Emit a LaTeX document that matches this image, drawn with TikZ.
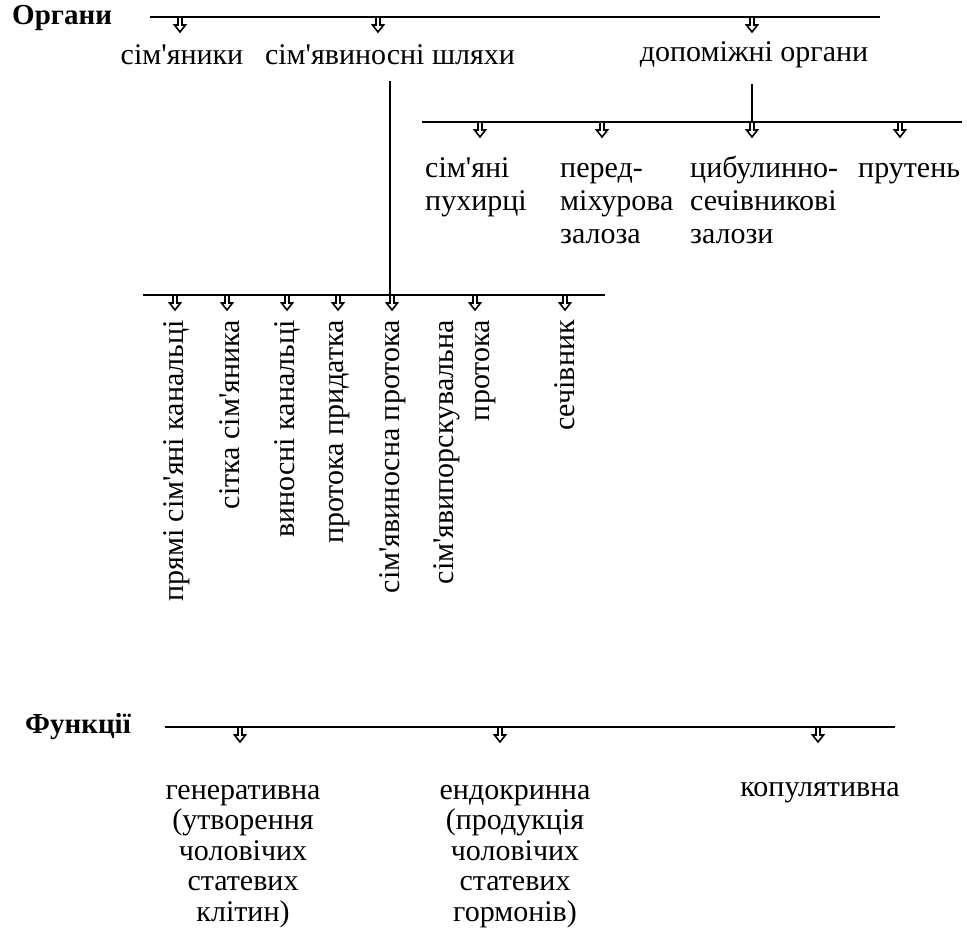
\documentclass[tikz,border=0pt]{standalone}
\usepackage{fontspec}
\setmainfont{Liberation Serif}[Ligatures=TeXOff]
\usetikzlibrary{positioning}

\tikzset{
  bus/.style={line width=2.8pt},
  stem/.style={line width=2pt},
  lbl/.style={inner sep=0pt, font=\fontsize{30}{31}\selectfont},
  lbltwo/.style={inner sep=0pt, anchor=north west, align=left, font=\fontsize{30}{33}\selectfont},
  lblfun/.style={inner sep=0pt, anchor=north, align=center, font=\fontsize{30}{30.5}\selectfont},
  vlbl/.style={lbl, rotate=90, anchor=east, align=right},
  head/.style={inner sep=0pt, font=\bfseries\fontsize{29}{30}\selectfont},
  pics/harrow/.style={code={
    \draw[line width=1.6pt, fill=white] (-2,1) -- (-2,8) -- (-5.5,8) -- (0,15) -- (5.5,8) -- (2,8) -- (2,1);
  }}
}

\begin{document}
\begin{tikzpicture}[x=1pt,y=-1pt]
\useasboundingbox (0,0) rectangle (967,939);

% draw organs bus
\node[head, anchor=west] (org) at (12,18) {Органи};
\coordinate (b1l) at (150,17);
\coordinate (b1r) at (880,17);
\draw[bus] (b1l) -- (b1r);
\foreach \x in {180,378,752}
\pic at (\x,17) {harrow};

\node[lbl] (ovar) at (182,55) {сім'яники};
\node[lbl] (shl) at (390,55) {сім'явиносні шляхи};
\node[lbl] (dop) at (754,55) {допоміжні органи};

% draw auxiliary organs
\coordinate (b2l) at (422,122);
\coordinate (b2r) at (962,122);
\draw[bus] (b2l) -- (b2r);
\draw[stem] ([xshift=-2pt,yshift=-16pt]dop.south) -- ([xshift=-2pt]dop.south |- b2l);
\foreach \x in {480,602,752,900}
\pic at (\x,122) {harrow};

\node[lbltwo] (ves) at (425,154) {\strut сім'яні\\пухирці};
\node[lbltwo] (pros) at (560,154) {\strut перед-\\міхурова\\залоза};
\node[lbltwo] (bulb) at (690,154) {\strut цибулинно-\\сечівникові\\залози};
\node[lbltwo] (pen) at (858,154) {\strut прутень};

% draw ducts
\coordinate (b3l) at (143,295);
\coordinate (b3r) at (605,295);
\draw[bus] (b3l) -- (b3r);
\draw[stem] ([yshift=-16pt]shl.south) -- (shl.south |- b3l);
\foreach \x in {175,227,287,338,392,475,565}
\pic at (\x,295) {harrow};

\node[vlbl] (d1) at (177,320) {прямі сім'яні канальці};
\node[vlbl] (d2) at (230,320) {сітка сім'яника};
\node[vlbl] (d3) at (287,320) {виносні канальці};
\node[vlbl] (d4) at (340,320) {протока придатка};
\node[vlbl] (d5) at (393,320) {сім'явиносна протока};
\node[vlbl, font=\fontsize{30}{36}\selectfont] (d6) at (465,320) {сім'явипорскувальна\\протока};
\node[vlbl] (d7) at (565,320) {сечівник};

% draw functions bus
\node[head, anchor=west] (fun) at (25,727) {Функції};
\coordinate (b4l) at (165,727);
\coordinate (b4r) at (895,727);
\draw[bus] (b4l) -- (b4r);
\foreach \x in {240,500,818}
\pic at (\x,727) {harrow};

\node[lblfun] (gen) at (243,785) {генеративна\\(утворення\\чоловічих\\статевих\\клітин)};
\node[lblfun] (endo) at (515,785) {ендокринна\\(продукція\\чоловічих\\статевих\\гормонів)};
\node[lblfun] (kop) at (820,782) {копулятивна};
\end{tikzpicture}
\end{document}
